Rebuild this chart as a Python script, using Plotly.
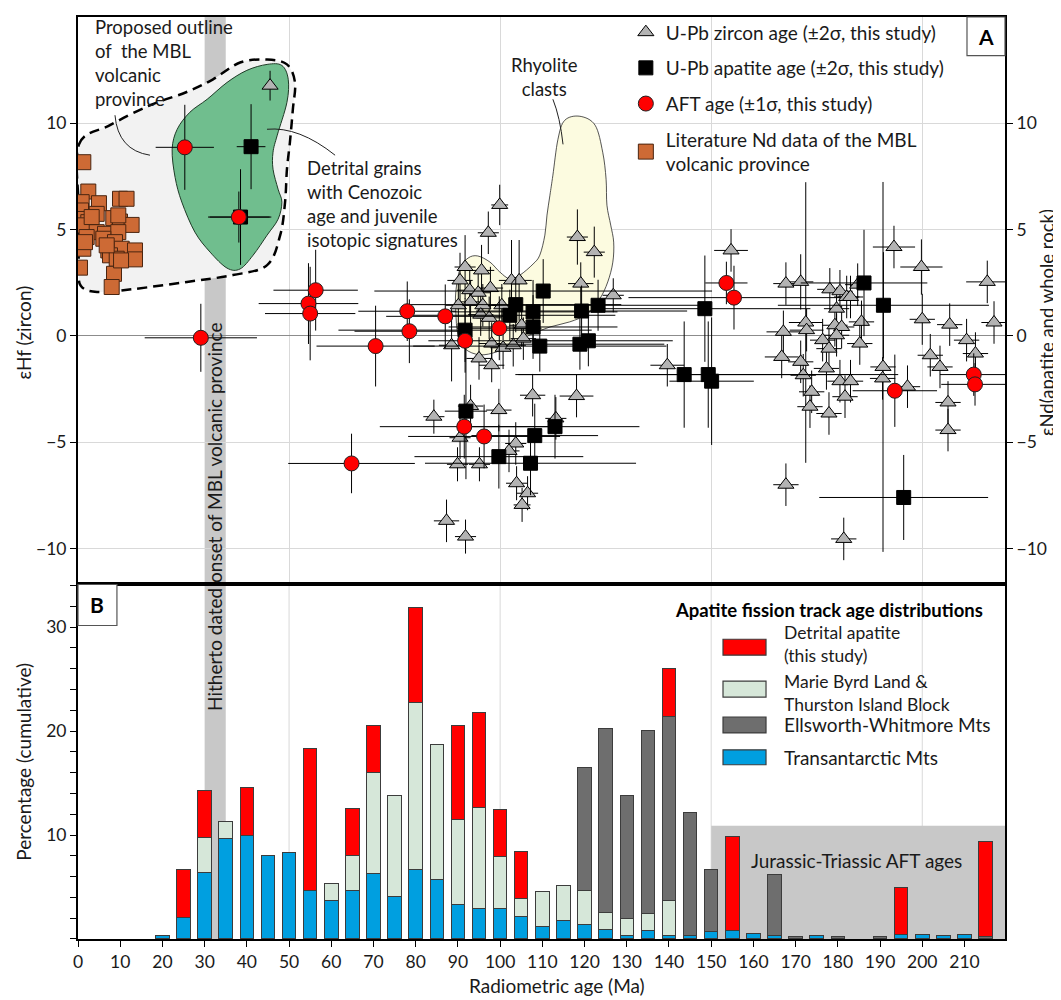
import plotly.graph_objects as go

# ---------------- DATA ----------------
# U-Pb zircon (eHf) : age (Ma), eHf, 2s age, 2s eHf
zr_age = [45.5, 99.9, 97.2, 118.3, 122.3, 126.8, 119.1, 91.7, 95.6, 90.5, 92.8, 94.8, 97.7, 102.7, 104.5,
          90.1, 93.0, 95.9, 95.4, 97.4, 100.4, 105.1, 105.5, 88.5, 98.0, 100.7, 103.1, 95.0, 98.0, 107.7,
          118.1, 84.3, 93.0, 99.7, 113.2, 90.5, 103.7, 102.1, 89.9, 95.1, 103.9, 106.5, 105.2, 87.3, 91.8,
          154.7, 167.7, 171.2, 178.1, 180.5, 182.1, 183.0, 184.7, 179.7, 193.3, 199.8, 215.4, 172.4, 167.1,
          172.6, 185.6, 179.3, 180.9, 179.7, 176.4, 177.9, 185.2, 200.0, 206.5, 217.0, 210.5, 212.6, 139.6,
          166.7, 171.2, 177.3, 190.7, 201.9, 204.2, 171.8, 180.5, 183.0, 173.8, 173.4, 177.9, 181.7, 190.6,
          196.5, 206.1, 206.1, 167.7, 181.4]
zr_ehf = [11.77, 6.16, 4.85, 4.65, 3.94, 1.91, 2.46, 3.24, 3.08, 2.61, 2.15, 2.03, 2.25, 2.61, 2.61,
          1.44, 1.60, 1.44, 1.00, 0.85, 1.44, 0.50, -0.13, -0.44, -0.36, -0.56, -0.44, -1.06, -1.38, -2.79,
          -2.83, -3.80, -3.30, -3.49, -3.88, -4.79, -5.06, -5.41, -6.04, -6.04, -6.93, -7.40, -7.95, -8.70, -9.44,
          4.02, 2.46, 2.54, 2.19, 2.10, 1.83, 1.83, 2.41, 1.28, 4.18, 3.24, 2.54, 0.63, 0.19,
          0.27, 0.66, 0.50, 0.42, 0.03, -0.20, -0.60, -0.36, 0.78, 0.53, 0.63, -0.20, -0.83, -1.38,
          -0.99, -1.22, -1.53, -1.46, -0.91, -1.46, -1.85, -2.13, -2.13, -2.63, -3.33, -3.65, -2.86, -2.00,
          -2.39, -3.13, -4.43, -7.00, -9.55]
zr_age_err = [1.0, 2.0, 2.5, 2.5, 2.5, 2.5, 3.0, 2.5, 3.0, 3.0, 3.0, 3.0, 3.0, 3.0, 3.0,
              3.0, 3.0, 3.0, 3.0, 3.0, 3.0, 3.0, 3.0, 3.0, 3.0, 3.0, 3.0, 3.0, 3.0, 3.0,
              4.0, 2.5, 3.0, 3.0, 2.5, 2.5, 2.5, 2.5, 2.5, 2.5, 2.5, 2.5, 2.0, 3.0, 2.5,
              4.0, 3.0, 3.0, 3.0, 3.0, 3.0, 3.0, 3.0, 3.0, 5.0, 5.0, 5.0, 4.0, 4.0,
              4.0, 3.0, 3.0, 3.0, 3.0, 3.0, 3.0, 3.0, 3.0, 3.0, 3.0, 3.0, 3.0, 4.0,
              4.0, 3.0, 3.0, 3.0, 3.0, 3.0, 3.0, 3.0, 3.0, 3.0, 3.0, 3.0, 3.0, 3.0,
              3.0, 3.0, 3.0, 3.0, 3.0]
zr_ehf_err = [0.7, 0.95, 1.0, 1.3, 1.2, 0.8, 1.0, 1.5, 1.2, 1.3, 1.2, 1.0, 1.0, 1.9, 1.9,
              1.0, 1.0, 1.0, 1.0, 1.0, 1.0, 1.0, 1.0, 1.7, 1.0, 1.0, 1.0, 1.0, 0.8, 1.0,
              1.0, 0.8, 1.0, 1.0, 1.0, 1.0, 1.0, 1.0, 0.8, 0.8, 0.8, 0.8, 0.8, 1.0, 0.8,
              1.0, 1.0, 1.3, 1.0, 1.0, 1.0, 1.0, 1.0, 1.0, 1.0, 1.3, 1.0, 6.6, 1.0,
              1.0, 1.0, 1.0, 1.0, 1.0, 1.0, 1.0, 1.0, 1.2, 1.0, 1.0, 1.0, 1.0, 1.0,
              1.0, 1.0, 1.0, 8.7, 1.0, 1.0, 1.0, 1.0, 1.0, 1.0, 1.0, 1.0, 1.0, 1.0,
              1.0, 1.0, 1.0, 1.0, 1.0]

# U-Pb apatite (eNd)
ap_age = [41.0, 38.5, 91.7, 103.7, 102.3, 110.2, 107.8, 107.8, 109.4, 119.3, 123.2, 118.9, 120.9,
          91.9, 108.2, 113.0, 99.7, 107.2, 186.2, 190.8, 148.5, 143.6, 149.3, 150.1, 195.6]
ap_end = [8.90, 5.59, 0.27, 1.47, 0.97, 2.11, 1.13, 0.42, -0.48, 1.17, 1.44, -0.39, -0.23,
          -3.54, -4.69, -4.27, -5.68, -5.99, 2.49, 1.44, 1.28, -1.82, -1.82, -2.13, -7.60]
ap_age_err = [3.4, 7.3, 30, 25, 25, 40, 20, 20, 30, 25, 25, 20, 20,
              5, 15, 20, 20, 25, 15, 25, 25, 40, 45, 10, 20]
ap_end_err = [2.0, 2.25, 1.5, 1.3, 1.2, 1.5, 1.5, 1.5, 1.2, 1.2, 1.2, 1.2, 1.2,
              3.2, 1.5, 1.5, 1.5, 1.5, 2.5, 2.5, 2.5, 2.5, 2.5, 3.0, 2.0]

# AFT ages (eNd)
aft_age = [25.3, 38.1, 29.1, 56.3, 54.6, 55.0, 64.8, 70.5, 78.0, 78.5, 87.0, 91.7, 99.8, 91.5, 96.2,
           153.6, 155.4, 193.5, 212.2, 212.5]
aft_end = [8.87, 5.59, -0.09, 2.15, 1.52, 1.05, -6.00, -0.48, 1.16, 0.22, 0.92, -0.23, 0.36, -4.27, -4.73,
           2.49, 1.80, -2.58, -1.82, -2.28]
aft_age_err = [6.9, 7.3, 13.3, 10, 11.8, 10.7, 15, 14, 11.6, 13, 14, 8.7, 10, 20, 18,
               5, 25, 10, 8, 8]
aft_end_err = [2.0, 1.2, 1.6, 1.9, 1.9, 2.2, 1.4, 1.9, 1.4, 1.5, 1.5, 1.5, 1.5, 1.5, 1.5,
               1.0, 1.5, 1.7, 1.0, 1.0]

# Literature Nd data of the MBL volcanic province
lit_age = [1.26, 2.44, 0.87, 4.97, 9.95, 11.5, 0.71, 4.43, 0.87, 8.36, 9.95, 12.7, 2.44, 1.26, 4.43,
           6.4, 9.55, 2.05, 6.0, 8.76, 1.26, 7.18, 10.35, 13.5, 7.58, 9.17, 13.5, 0.47, 8.53, 7.98,
           3.24, 1.66, 9.55, 6.8, 10.2]
lit_end = [8.17, 6.79, 6.29, 6.24, 6.45, 6.45, 5.90, 5.74, 5.50, 5.54, 5.38, 5.22, 5.35, 5.20, 4.88,
           4.80, 4.88, 4.65, 4.57, 4.41, 4.10, 4.02, 4.10, 4.02, 3.79, 3.63, 3.60, 3.21, 2.92, 2.30,
           5.59, 4.41, 5.67, 4.26, 3.55]

# AFT age distributions (cumulative percentage stacks), 5 Ma bins
bin_age = [20, 25, 30, 35, 40, 45, 50, 55, 60, 65, 70, 75, 80, 85, 90, 95, 100, 105, 110, 115,
           120, 125, 130, 135, 140, 145, 150, 155, 160, 165, 170, 175, 180, 185, 190, 195, 200, 205, 210, 215]
tam_pct = [0.3, 2.1, 6.4, 9.65, 10.0, 8.05, 8.33, 4.7, 3.7, 4.7, 6.3, 4.07, 6.7, 5.77, 3.3, 2.9, 2.95, 2.2, 1.25, 1.76,
           1.35, 0.9, 0.3, 0.77, 0.38, 0.3, 0.74, 0.77, 0.5, 0.3, None, 0.35, None, None, None, 0.4, 0.48, 0.35, 0.48, None]
mbl_pct = [None, None, 3.35, 1.65, None, None, None, None, 1.6, 3.3, 9.7, 9.7, 16.1, 12.9, 8.15, 9.8, 4.95, 1.7, 3.3, 3.34,
           3.35, 1.66, 1.7, 1.73, 3.37, None, None, None, None, None, None, None, None, None, None, None, None, None, None, None]
ewm_pct = [None, None, None, None, None, None, None, None, None, None, None, None, None, None, None, None, None, None, None, None,
           11.8, 17.7, 11.8, 17.6, 17.7, 11.85, 5.93, None, None, 5.95, 0.2, None, 0.2, None, 0.2, None, None, None, None, 0.25]
det_pct = [None, 4.55, 4.55, None, 4.55, None, None, 13.65, None, 4.55, 4.55, None, 9.1, None, 9.1, 9.1, 4.55, 4.55, None, None,
           None, None, None, None, 4.55, None, None, 9.1, None, None, None, None, None, None, None, 4.55, None, None, None, 9.1]

x_ticks_top = [50, 100, 150, 200]
y_ticks_top = [-10, -5, 0, 5, 10]
y_ticks_bottom = [10, 20, 30]

# ---------------- helpers ----------------
def smooth_closed(pts):
    n = len(pts)
    d = "M %.3f,%.3f" % pts[0]
    for i in range(n):
        p0 = pts[i - 1]; p1 = pts[i]; p2 = pts[(i + 1) % n]; p3 = pts[(i + 2) % n]
        c1 = (p1[0] + (p2[0] - p0[0]) / 6, p1[1] + (p2[1] - p0[1]) / 6)
        c2 = (p2[0] - (p3[0] - p1[0]) / 6, p2[1] - (p3[1] - p1[1]) / 6)
        d += " C %.3f,%.3f %.3f,%.3f %.3f,%.3f" % (c1[0], c1[1], c2[0], c2[1], p2[0], p2[1])
    return d + " Z"

mbl_outline = [(0.24, 9.01), (7.58, 9.91), (17.06, 10.85), (25.6, 11.46), (32.0, 12.07), (38.4, 12.86),
               (44.8, 13.0), (49.5, 12.77), (51.4, 11.92), (50.9, 10.66), (50.2, 9.1), (49.5, 7.84),
               (49.05, 6.29), (47.9, 4.74), (44.8, 3.33), (36.7, 2.86), (25.8, 2.54), (13.0, 2.2),
               (4.5, 2.07), (0.7, 2.35), (0.2, 3.2), (0.15, 6.0)]
green_outline = [(22.3, 8.78), (23.5, 9.72), (26.5, 10.52), (30.6, 11.13), (35.3, 11.92), (40.0, 12.49),
                 (44.8, 12.77), (48.3, 12.72), (49.8, 12.07), (49.5, 10.99), (47.2, 9.44), (46.2, 8.64),
                 (46.2, 7.84), (47.4, 6.9), (48.3, 6.29), (47.4, 5.49), (44.8, 4.74), (41.5, 3.8),
                 (38.4, 3.15), (35.3, 3.19), (31.3, 3.94), (27.7, 4.88), (24.6, 6.29), (23.0, 7.46)]
rhy_outline = [(118.9, 10.33), (122.5, 9.91), (124.3, 8.64), (125.1, 7.37), (125.3, 6.15), (126.2, 5.21),
               (126.9, 4.41), (126.7, 3.47), (125.5, 2.54), (123.6, 1.74), (120.6, 1.03), (116.5, 0.66),
               (111.8, 0.42), (107.1, 0.05), (102.3, -0.42), (99.2, -0.75), (95.2, -0.89), (91.7, -0.61),
               (90.0, 0.05), (89.5, 1.13), (89.5, 2.07), (90.5, 3.15), (92.4, 3.66), (94.7, 3.76),
               (97.6, 3.47), (99.95, 3.0), (102.3, 2.68), (104.7, 2.86), (107.8, 3.38), (109.4, 3.8),
               (110.6, 4.74), (111.1, 5.68), (111.8, 6.62), (112.5, 7.56), (113.7, 9.25), (115.3, 10.14)]

FONT = "Lato"
TXT = 19
PARA = 18.5
err = dict(type="data", width=0, thickness=1, color="black")

fig = go.Figure()

fig.add_trace(go.Scatter(
    x=zr_age, y=zr_ehf, mode="markers", name="U-Pb zircon age (±2σ, this study)",
    legendgroup="a", xaxis="x", yaxis="y",
    error_x=dict(err, array=zr_age_err), error_y=dict(err, array=zr_ehf_err),
    marker=dict(symbol="triangle-up", size=14, color="#b3b3b3", line=dict(color="black", width=1))))
fig.add_trace(go.Scatter(
    x=ap_age, y=ap_end, mode="markers", name="U-Pb apatite age (±2σ, this study)",
    legendgroup="b", xaxis="x", yaxis="y3",
    error_x=dict(err, array=ap_age_err), error_y=dict(err, array=ap_end_err),
    marker=dict(symbol="square", size=14, color="black", line=dict(color="black", width=1))))
fig.add_trace(go.Scatter(
    x=aft_age, y=aft_end, mode="markers", name="AFT age (±1σ, this study)",
    legendgroup="c", xaxis="x", yaxis="y3",
    error_x=dict(err, array=aft_age_err), error_y=dict(err, array=aft_end_err),
    marker=dict(symbol="circle", size=15, color="#ff0000", line=dict(color="#202020", width=1))))
fig.add_trace(go.Scatter(
    x=lit_age, y=lit_end, mode="markers", name="Literature Nd data of the MBL<br>volcanic province",
    legendgroup="d", xaxis="x", yaxis="y3",
    marker=dict(symbol="square", size=15, color="#cd6a35", line=dict(color="#4a2510", width=1))))

bar_line = dict(color="#3c3c3c", width=1)
for vals, col, nm in [(tam_pct, "#009fe0", "Transantarctic Mts"),
                      (mbl_pct, "#d6e7d9", "Marie Byrd Land & Thurston Island Block"),
                      (ewm_pct, "#6e6e6e", "Ellsworth-Whitmore Mts"),
                      (det_pct, "#ff0000", "Detrital apatite (this study)")]:
    fig.add_trace(go.Bar(x=bin_age, y=vals, width=3.2, name=nm, showlegend=False,
                         xaxis="x2", yaxis="y2", marker=dict(color=col, line=bar_line)))

shapes = []
shapes.append(dict(type="path", xref="x", yref="y", path=smooth_closed(mbl_outline),
                   fillcolor="#f2f2f2", line=dict(width=0), layer="between"))
shapes.append(dict(type="rect", xref="x2", yref="paper", x0=30, x1=35, y0=0, y1=1,
                   fillcolor="#c8c8c8", line=dict(width=0), layer="between"))
shapes.append(dict(type="rect", xref="x2", yref="y2", x0=150, x1=219.6, y0=0, y1=10.9,
                   fillcolor="#c8c8c8", line=dict(width=0), layer="between"))
for gx in x_ticks_top:
    shapes.append(dict(type="line", xref="x2", yref="y2 domain", x0=gx, x1=gx, y0=0, y1=1,
                       line=dict(color="#d9d9d9", width=1), layer="below"))
shapes.append(dict(type="path", xref="x", yref="y", path=smooth_closed(green_outline),
                   fillcolor="rgba(50,165,95,0.68)", line=dict(color="#1e3a26", width=1), layer="between"))
shapes.append(dict(type="path", xref="x", yref="y", path=smooth_closed(rhy_outline),
                   fillcolor="#fcfbe0", line=dict(color="#2a2a2a", width=0.8), layer="between"))
shapes.append(dict(type="path", xref="x", yref="y", path=smooth_closed(mbl_outline),
                   fillcolor="rgba(0,0,0,0)", line=dict(color="black", width=2.5, dash="10px,6px"),
                   layer="between"))
shapes.append(dict(type="path", xref="x", yref="y", path="M 8.76,10.38 Q 9.47,8.73 17.05,8.5",
                   line=dict(color="#222", width=1)))
shapes.append(dict(type="path", xref="x", yref="y", path="M 44.77,9.72 Q 52.3,9.86 60.9,8.5",
                   line=dict(color="#222", width=1)))
shapes.append(dict(type="path", xref="x", yref="y", path="M 112.5,11.13 Q 114.2,10.28 114.9,9.01",
                   line=dict(color="#222", width=1)))
shapes.append(dict(type="rect", xref="paper", yref="paper", x0=0.959, x1=1.0, y0=0.958, y1=1.0,
                   fillcolor="white", line=dict(color="#555", width=1.2)))
shapes.append(dict(type="rect", xref="paper", yref="paper", x0=0.0, x1=0.042, y0=0.340, y1=0.3845,
                   fillcolor="white", line=dict(color="#555", width=1.2)))
sw = [("#ff0000", 0.3251, 0.3078), ("#d6e7d9", 0.2797, 0.2624), ("#6e6e6e", 0.2408, 0.2235),
      ("#009fe0", 0.2052, 0.1890)]
for c, ya, yb in sw:
    shapes.append(dict(type="rect", xref="paper", yref="paper", x0=0.6958, x1=0.7422, y0=yb, y1=ya,
                       fillcolor=c, line=dict(color="#3c3c3c", width=1.2)))

tc = "#1a1a1a"
ann = []
def txt_ann(text, x, y, xref="x", yref="y", xanchor="left", size=TXT, **kw):
    ann.append(dict(xref=xref, yref=yref, x=x, y=y, xanchor=xanchor, yanchor="middle",
                    text=text, showarrow=False, font=dict(size=size, color=tc), **kw))

txt_ann("Proposed outline<br>of  the MBL<br>volcanic<br>province", 3.55, 12.82, align="left", size=PARA)
txt_ann("Detrital grains<br>with Cenozoic<br>age and juvenile<br>isotopic signatures", 53.8, 6.2,
        align="left", size=PARA)
txt_ann("Rhyolite<br>clasts", 110.6, 12.16, xanchor="center", align="center", size=PARA)
txt_ann("Hitherto dated onset of MBL volcanic province", 32.5, 0.458, xref="x2", yref="paper",
        xanchor="center", textangle=-90)
txt_ann("Jurassic-Triassic AFT ages", 184.5, 7.6, xref="x2", yref="y2", xanchor="center")
ann.append(dict(xref="paper", yref="paper", x=0.9795, y=0.979, xanchor="center", yanchor="middle",
                text="<b>A</b>", showarrow=False, font=dict(size=21, color="black")))
ann.append(dict(xref="paper", yref="paper", x=0.021, y=0.3623, xanchor="center", yanchor="middle",
                text="<b>B</b>", showarrow=False, font=dict(size=21, color="black")))
ann.append(dict(xref="paper", yref="paper", x=0.810, y=0.3564, xanchor="center", yanchor="middle",
                text="<b>Apatite fission track age distributions</b>", showarrow=False,
                font=dict(size=18.5, color="black")))
txt_ann("Detrital apatite<br>(this study)", 0.7594, 0.3200, xref="paper", yref="paper", align="left",
        size=17.5)
txt_ann("Marie Byrd Land &<br>Thurston Island Block", 0.7594, 0.2667, xref="paper", yref="paper",
        align="left", size=17.5)
txt_ann("Ellsworth-Whitmore Mts", 0.7594, 0.2322, xref="paper", yref="paper")
txt_ann("Transantarctic Mts", 0.7594, 0.1965, xref="paper", yref="paper")
# axis titles
txt_ann("εHf (zircon)", -0.0583, 0.6577, xref="paper", yref="paper", xanchor="center", textangle=-90)
txt_ann("εNd(apatite and whole rock)", 1.0445, 0.6685, xref="paper", yref="paper", xanchor="center",
        textangle=-90, size=18.5)
txt_ann("Percentage (cumulative)", -0.0583, 0.1922, xref="paper", yref="paper", xanchor="center",
        textangle=-90)
txt_ann("Radiometric age (Ma)", 0.5167, -0.0508, xref="paper", yref="paper", xanchor="center")

axline = dict(showline=True, linecolor="black", linewidth=2, automargin=False)
tickf = dict(size=17.5, color=tc)
fig.update_layout(
    width=1053, height=992,
    margin=dict(l=70, r=56, t=5, b=61),
    plot_bgcolor="white", paper_bgcolor="white",
    font=dict(family=FONT, size=TXT, color=tc),
    barmode="stack",
    shapes=shapes, annotations=ann,
    showlegend=True,
    legend=dict(x=0.591, y=1.004, xanchor="left", yanchor="top", bgcolor="rgba(0,0,0,0)",
                font=dict(size=TXT, family=FONT, color=tc), tracegroupgap=8, traceorder="grouped",
                itemsizing="trace"),
    xaxis=dict(domain=[0, 1], anchor="y", range=[0, 219.6], tickvals=x_ticks_top,
               showticklabels=False, ticks="", showgrid=True, gridcolor="#d9d9d9", zeroline=False,
               mirror=True, **axline),
    yaxis=dict(domain=[0.3855, 1], anchor="x", range=[-11.65, 15], tickvals=y_ticks_top,
               ticks="outside", ticklen=6, tickcolor="black", tickfont=tickf, showgrid=True,
               gridcolor="#d9d9d9", zeroline=True, zerolinecolor="#8c8c8c", zerolinewidth=1, **axline),
    yaxis3=dict(overlaying="y", side="right", anchor="x", range=[-11.65, 15], tickvals=y_ticks_top,
                ticks="outside", ticklen=6, tickcolor="black", tickfont=tickf, showgrid=False,
                zeroline=False, **axline),
    xaxis2=dict(domain=[0, 1], anchor="y2", range=[0, 219.6], tick0=0, dtick=10, ticks="outside",
                ticklen=6, tickcolor="black", tickfont=tickf, showgrid=False, zeroline=False,
                mirror=True, **axline),
    yaxis2=dict(domain=[0, 0.3855], anchor="x2", range=[0, 34.2], tickvals=y_ticks_bottom,
                ticks="outside", ticklen=6, tickcolor="black", tickfont=tickf,
                minor=dict(dtick=2, ticks="outside", ticklen=6, tickcolor="black", showgrid=False),
                showgrid=False, zeroline=False, mirror=True, **axline),
)

fig.write_html("out.html")
